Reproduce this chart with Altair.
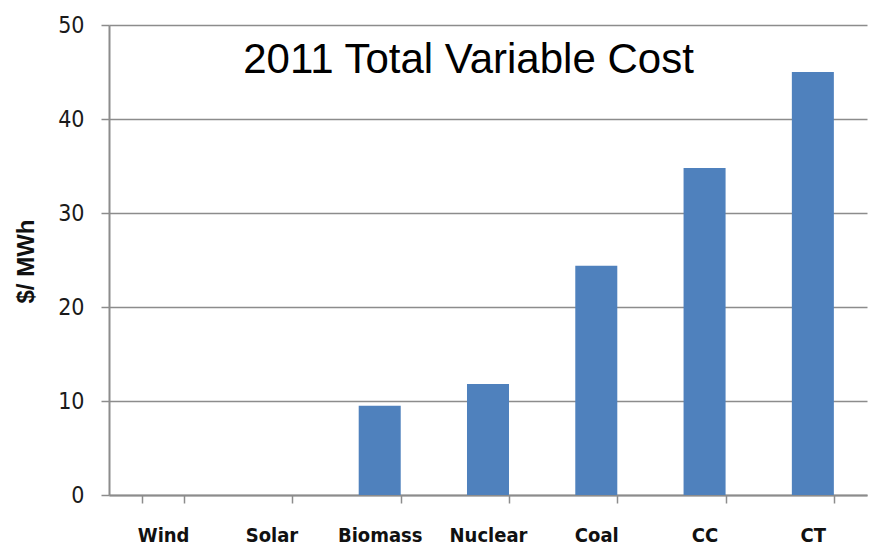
import altair as alt
import pandas as pd

# Variable cost by generation technology, 2011 ($/MWh)
technologies = ["Wind", "Solar", "Biomass", "Nuclear", "Coal", "CC", "CT"]
cost_per_mwh = [0.0, 0.0, 9.5, 11.8, 24.4, 34.8, 45.0]
y_ticks = [0, 10, 20, 30, 40, 50]
chart_title = "2011 Total Variable Cost"

df = pd.DataFrame({"tech": technologies, "cost": cost_per_mwh})

NARROW = "Liberation Sans Narrow, DejaVu Sans Condensed, Arial Narrow, sans-serif"
GRID = "#8c8c8c"

bars = alt.Chart(df).mark_bar(color="#4f81bd").encode(
    x=alt.X(
        "tech:N",
        sort=technologies,
        title=None,
        scale=alt.Scale(paddingInner=0.612, paddingOuter=0.306),
        axis=alt.Axis(
            labelAngle=0,
            labelFont=NARROW,
            labelFontSize=20,
            labelFontWeight="bold",
            labelColor="#111111",
            labelPadding=22,
            tickBand="extent",
            tickSize=8,
            tickColor=GRID,
            tickWidth=1.5,
            domainColor=GRID,
            domainWidth=2,
            grid=False,
        ),
    ),
    y=alt.Y(
        "cost:Q",
        title="$/ MWh",
        scale=alt.Scale(domain=[0, 50], nice=False),
        axis=alt.Axis(
            values=y_ticks,
            labelFont=NARROW,
            labelFontSize=23,
            labelColor="#1a1a1a",
            labelPadding=17,
            tickSize=8,
            tickColor=GRID,
            tickWidth=1.5,
            domainColor=GRID,
            domainWidth=2,
            gridColor=GRID,
            gridWidth=1.5,
            titleFont="Liberation Sans, Arial, sans-serif",
            titleFontSize=24,
            titleFontWeight="bold",
            titleColor="#111111",
            titleAngle=270,
            titleBaseline="middle",
            titleAlign="center",
            titleX=-83,
            titleY=236,
        ),
    ),
)

title_text = alt.Chart(pd.DataFrame({"t": [chart_title]})).mark_text(
    font="Liberation Sans, Arial, sans-serif",
    fontSize=42,
    color="#000000",
    align="center",
    baseline="alphabetic",
).encode(text="t:N", x=alt.value(359.5), y=alt.value(48))

chart = (
    alt.layer(bars, title_text)
    .properties(
        width=758,
        height=470,
        autosize=alt.AutoSizeParams(type="none"),
        padding={"left": 109, "top": 25, "right": 6, "bottom": 52},
        background="white",
    )
    .configure_view(stroke=None)
)

chart.save("out.html", embed_options={"renderer": "svg", "actions": False})
